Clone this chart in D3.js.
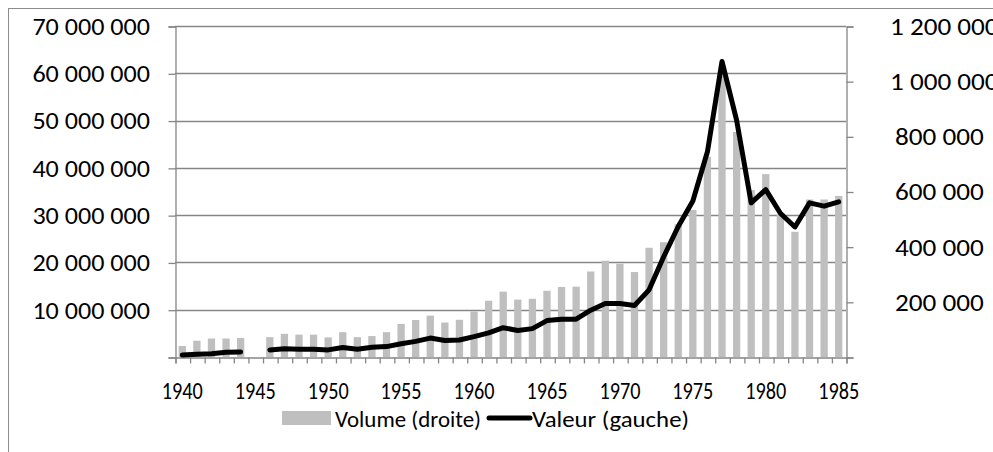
<!DOCTYPE html>
<html>
<head>
<meta charset="utf-8">
<script src="https://cdn.jsdelivr.net/npm/d3@7"></script>
<style>
  body { margin: 0; background: #fff; }
  text { font-family: Calibri, Carlito, Lato, sans-serif; fill: #000; }
</style>
</head>
<body>
<div id="chart"></div>
<script>
// data
var years = d3.range(1940, 1986);
// volume (right axis), null = no data
var volume = [40000, 59000, 67000, 67000, 69000, null, 72000, 84000, 81000, 81000,
    71000, 90000, 72000, 76000, 90000, 120000, 134000, 150000, 125000, 135000,
    165000, 204000, 237000, 208000, 211000, 240000, 254000, 255000, 310000, 349000,
    338000, 308000, 396000, 416000, 481000, 533000, 726000, 1020000, 816000, 605000,
    663000, 515000, 454000, 571000, 571000, 584000];
// valeur (left axis)
var valeur = [400000, 600000, 700000, 1000000, 1050000, null, 1500000, 1750000, 1650000, 1650000,
    1500000, 2000000, 1650000, 2050000, 2200000, 2800000, 3300000, 4000000, 3500000, 3600000,
    4300000, 5100000, 6200000, 5600000, 6000000, 7700000, 8000000, 8000000, 9900000, 11300000,
    11300000, 10900000, 14200000, 21200000, 27600000, 33000000, 43400000, 62500000, 50100000, 32600000,
    35400000, 30400000, 27500000, 32600000, 31900000, 32800000];
var leftTicks = [0, 10000000, 20000000, 30000000, 40000000, 50000000, 60000000, 70000000];
var rightTicks = [0, 200000, 400000, 600000, 800000, 1000000, 1200000];
var yearLabels = [1940, 1945, 1950, 1955, 1960, 1965, 1970, 1975, 1980, 1985];
var legendNames = ["Volume (droite)", "Valeur (gauche)"];

var svgWidth = 993;
var svgHeight = 452;
var plot = { left: 175, right: 846, top: 26, bottom: 357 };
var grey = "#868686";

var svg = d3.select("#chart")
    .append("svg")
    .attr("width", svgWidth)
    .attr("height", svgHeight);

// chart border (runs off the picture right and bottom)
svg.append("rect")
    .attr("x", 8.5)
    .attr("y", 8.5)
    .attr("width", 1100)
    .attr("height", 600)
    .attr("fill", "none")
    .attr("stroke", "#8c8c8c");

var x = d3.scaleBand()
    .domain(years)
    .range([plot.left, plot.right])
    .paddingInner(0.5)
    .paddingOuter(0.25);

var yLeft = d3.scaleLinear()
    .domain([0, 70000000])
    .range([plot.bottom, plot.top]);

var yRight = d3.scaleLinear()
    .domain([0, 1200000])
    .range([plot.bottom, plot.top]);

var fmt = function (v) { return d3.format(",")(v).replace(/,/g, " "); };
// rough width of a label: digits and spaces
function labelWidth(s, digit, space) {
    var n = 0;
    for (var c of s) n += (c === " ") ? space : digit;
    return n;
}

// gridlines
svg.append("g")
    .selectAll("line")
    .data(leftTicks.slice(1))
    .enter()
    .append("line")
    .attr("x1", plot.left)
    .attr("x2", plot.right)
    .attr("y1", d => Math.round(yLeft(d)) + 0.5)
    .attr("y2", d => Math.round(yLeft(d)) + 0.5)
    .attr("stroke", grey)
    .attr("stroke-width", 1.3);

// bars
var data = years.map((yr, i) => ({ year: yr, volume: volume[i], valeur: valeur[i] }));

svg.append("g")
    .selectAll("rect")
    .data(data.filter(d => d.volume != null))
    .enter()
    .append("rect")
    .attr("x", d => x(d.year))
    .attr("y", d => yRight(d.volume))
    .attr("width", x.bandwidth())
    .attr("height", d => plot.bottom - yRight(d.volume))
    .attr("fill", "#bfbfbf");

// axes
var leftAxis = d3.axisLeft(yLeft).tickValues(leftTicks).tickSize(7).tickFormat("");
var rightAxis = d3.axisRight(yRight).tickValues(rightTicks).tickSize(7).tickFormat("");
var bottomAxis = d3.axisBottom(d3.scaleLinear().domain([0, years.length]).range([plot.left, plot.right]))
    .tickValues(d3.range(0, years.length + 1))
    .tickSize(6)
    .tickFormat("");

[[leftAxis, plot.left, 0], [rightAxis, plot.right, 0], [bottomAxis, 0, plot.bottom]].forEach(function (a) {
    var g = svg.append("g")
        .attr("transform", `translate(${a[1] + 0.5}, ${a[2] + 0.5})`)
        .call(a[0]);
    g.selectAll("path, line").attr("stroke", grey).attr("stroke-width", 1.3);
});

// left labels
svg.append("g")
    .selectAll("text")
    .data(leftTicks.slice(1))
    .enter()
    .append("text")
    .attr("x", 150)
    .attr("y", d => yLeft(d))
    .attr("dy", "0.37em")
    .attr("text-anchor", "end")
    .style("font-size", "24px")
    .attr("textLength", d => labelWidth(fmt(d), 13.2, 6))
    .attr("lengthAdjust", "spacingAndGlyphs")
    .text(d => fmt(d));

// right labels
svg.append("g")
    .selectAll("text")
    .data(rightTicks.slice(1))
    .enter()
    .append("text")
    .attr("x", d => d >= 1000000 ? 890 : 895)
    .attr("y", d => yRight(d))
    .attr("dy", "0.37em")
    .style("font-size", "24px")
    .attr("textLength", d => labelWidth(fmt(d), 13.8, 6))
    .attr("lengthAdjust", "spacingAndGlyphs")
    .text(d => fmt(d));

// year labels
svg.append("g")
    .selectAll("text")
    .data(yearLabels)
    .enter()
    .append("text")
    .attr("x", d => x(d) + x.bandwidth() / 2)
    .attr("y", 399)
    .attr("text-anchor", "middle")
    .style("font-size", "24px")
    .attr("textLength", 41)
    .attr("lengthAdjust", "spacingAndGlyphs")
    .text(d => d);

// line
var line = d3.line()
    .defined(d => d.valeur != null)
    .x(d => x(d.year) + x.bandwidth() / 2)
    .y(d => yLeft(d.valeur));

svg.append("path")
    .datum(data)
    .attr("d", line)
    .attr("fill", "none")
    .attr("stroke", "#000")
    .attr("stroke-width", 5)
    .attr("stroke-linejoin", "round")
    .attr("stroke-linecap", "round");

// legend
var legend = svg.append("g");
legend.append("rect")
    .attr("x", 282)
    .attr("y", 411)
    .attr("width", 49)
    .attr("height", 14)
    .attr("fill", "#bfbfbf");
legend.append("text")
    .attr("x", 335)
    .attr("y", 427)
    .style("font-size", "23px")
    .attr("textLength", 146)
    .attr("lengthAdjust", "spacingAndGlyphs")
    .text(legendNames[0]);
legend.append("line")
    .attr("x1", 489)
    .attr("x2", 530)
    .attr("y1", 418)
    .attr("y2", 418)
    .attr("stroke", "#000")
    .attr("stroke-width", 5)
    .attr("stroke-linecap", "round");
legend.append("text")
    .attr("x", 532)
    .attr("y", 427)
    .style("font-size", "23px")
    .attr("textLength", 157)
    .attr("lengthAdjust", "spacingAndGlyphs")
    .text(legendNames[1]);
</script>
</body>
</html>
